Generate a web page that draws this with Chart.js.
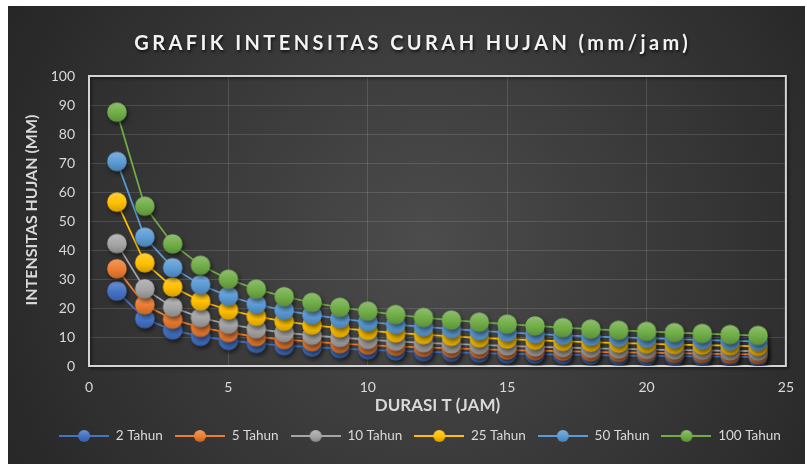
<!DOCTYPE html>
<html>
<head>
<meta charset="utf-8">
<script src="https://cdn.jsdelivr.net/npm/chart.js@4.4.1/dist/chart.umd.min.js"></script>
<style>
  html, body { margin: 0; padding: 0; background: #fff; }
  #wrap { width: 807px; height: 464px; }
</style>
</head>
<body>
<div id="wrap"><canvas id="chart" width="807" height="464"></canvas></div>
<script>
/* =========================
   Data
   ========================= */

const durasi = [1, 2, 3, 4, 5, 6, 7, 8, 9, 10, 11, 12, 13, 14, 15, 16, 17, 18, 19, 20, 21, 22, 23, 24];

const tahun2   = [25.8, 16.3, 12.4, 10.2, 8.8, 7.8, 7.0, 6.5, 6.0, 5.6, 5.2, 4.9, 4.7, 4.4, 4.2, 4.1, 3.9, 3.8, 3.6, 3.5, 3.4, 3.3, 3.2, 3.1];
const tahun5   = [33.5, 21.1, 16.1, 13.3, 11.5, 10.1, 9.1, 8.4, 7.7, 7.2, 6.8, 6.4, 6.1, 5.8, 5.5, 5.3, 5.1, 4.9, 4.7, 4.6, 4.4, 4.3, 4.1, 4.0];
const tahun10  = [42.2, 26.6, 20.3, 16.7, 14.4, 12.8, 11.5, 10.6, 9.8, 9.1, 8.5, 8.0, 7.6, 7.3, 6.9, 6.6, 6.4, 6.1, 5.9, 5.7, 5.5, 5.4, 5.2, 5.1];
const tahun25  = [56.5, 35.6, 27.2, 22.4, 19.3, 17.1, 15.4, 14.1, 13.1, 12.2, 11.4, 10.8, 10.2, 9.7, 9.3, 8.9, 8.5, 8.2, 7.9, 7.7, 7.4, 7.2, 7.0, 6.8];
const tahun50  = [70.5, 44.4, 33.9, 28.0, 24.1, 21.3, 19.2, 17.6, 16.3, 15.2, 14.3, 13.5, 12.8, 12.1, 11.6, 11.1, 10.6, 10.2, 9.9, 9.6, 9.3, 9.0, 8.7, 8.5];
const tahun100 = [87.5, 55.1, 42.1, 34.7, 29.9, 26.5, 23.9, 21.9, 20.2, 18.9, 17.7, 16.7, 15.8, 15.1, 14.4, 13.8, 13.2, 12.7, 12.3, 11.9, 11.5, 11.2, 10.8, 10.5];

const seriesNames = ['2 Tahun', '5 Tahun', '10 Tahun', '25 Tahun', '50 Tahun', '100 Tahun'];
const seriesValues = [tahun2, tahun5, tahun10, tahun25, tahun50, tahun100];
const seriesColors = ['#4472C4', '#ED7D31', '#A5A5A5', '#FFC000', '#5B9BD5', '#70AD47'];

const titleText = 'GRAFIK INTENSITAS CURAH HUJAN (mm/jam)';
const xTitle = 'DURASI T (JAM)';
const yTitle = 'INTENSITAS HUJAN (MM)';

const FONT = 'Lato, "Open Sans", sans-serif';
const TEXT = '#d9d9d9';

/* =========================
   Marker images
   ========================= */

function shade(hex, amt) {
    let r = parseInt(hex.slice(1, 3), 16), g = parseInt(hex.slice(3, 5), 16), b = parseInt(hex.slice(5, 7), 16);
    const f = c => amt > 0 ? Math.round(c + (255 - c) * amt) : Math.round(c * (1 + amt));
    return 'rgb(' + f(r) + ',' + f(g) + ',' + f(b) + ')';
}

function makeMarker(color, r, pad) {
    const size = Math.ceil((r + pad) * 2);
    const c = document.createElement('canvas');
    c.width = size; c.height = size;
    const ctx = c.getContext('2d');
    const cx = size / 2, cy = size / 2;
    ctx.shadowColor = 'rgba(0,0,0,0.55)';
    ctx.shadowBlur = 4;
    ctx.shadowOffsetX = 1.5;
    ctx.shadowOffsetY = 2.5;
    const grad = ctx.createLinearGradient(0, cy - r, 0, cy + r);
    grad.addColorStop(0, shade(color, 0.22));
    grad.addColorStop(0.55, color);
    grad.addColorStop(1, shade(color, -0.18));
    ctx.fillStyle = grad;
    ctx.beginPath();
    ctx.arc(cx, cy, r, 0, Math.PI * 2);
    ctx.fill();
    return c;
}

function makeLegendMarker(color) {
    const c = document.createElement('canvas');
    c.width = 50; c.height = 16;
    const ctx = c.getContext('2d');
    ctx.strokeStyle = color;
    ctx.lineWidth = 2;
    ctx.beginPath();
    ctx.moveTo(0, 8);
    ctx.lineTo(50, 8);
    ctx.stroke();
    const grad = ctx.createLinearGradient(0, 2, 0, 14);
    grad.addColorStop(0, shade(color, 0.22));
    grad.addColorStop(0.55, color);
    grad.addColorStop(1, shade(color, -0.18));
    ctx.fillStyle = grad;
    ctx.beginPath();
    ctx.arc(25, 8, 6, 0, Math.PI * 2);
    ctx.fill();
    return c;
}

const markers = seriesColors.map(c => makeMarker(c, 9.8, 5));
const legendMarkers = seriesColors.map(c => makeLegendMarker(c));

/* =========================
   Plugins
   ========================= */

const backgroundPlugin = {
    id: 'bgPanel',
    beforeDraw(chart) {
        const ctx = chart.ctx;
        ctx.save();
        ctx.fillStyle = '#ffffff';
        ctx.fillRect(0, 0, chart.width, chart.height);
        const g = ctx.createRadialGradient(425, 245, 0, 425, 245, 520);
        g.addColorStop(0, '#4c4c4c');
        g.addColorStop(1, '#232323');
        ctx.fillStyle = g;
        ctx.fillRect(8, 6, 797, 458);
        ctx.restore();
    }
};

const plotBorderPlugin = {
    id: 'plotBorder',
    beforeDatasetsDraw(chart) {
        const { ctx, chartArea: a } = chart;
        ctx.save();
        ctx.shadowColor = 'rgba(0,0,0,0.6)';
        ctx.shadowBlur = 3;
        ctx.shadowOffsetX = 1.5;
        ctx.shadowOffsetY = 1.5;
        ctx.strokeStyle = '#d4d4d4';
        ctx.lineWidth = 2;
        ctx.strokeRect(a.left, a.top, a.right - a.left, a.bottom - a.top);
        ctx.restore();
    }
};

// chart title (letter spaced) and the y axis title
const textPlugin = {
    id: 'extraText',
    afterDraw(chart) {
        const ctx = chart.ctx;
        ctx.save();
        ctx.font = 'bold 20px ' + FONT;
        const natural = ctx.measureText(titleText).width;
        const spacing = Math.max(0, (557 - natural) / titleText.length);
        ctx.letterSpacing = spacing.toFixed(2) + 'px';
        ctx.textAlign = 'center';
        ctx.textBaseline = 'middle';
        ctx.shadowColor = 'rgba(0,0,0,0.7)';
        ctx.shadowBlur = 3;
        ctx.shadowOffsetX = 1;
        ctx.shadowOffsetY = 1.5;
        ctx.fillStyle = '#f2f2f2';
        ctx.fillText(titleText, 411 + spacing / 2, 44);
        ctx.restore();

        ctx.save();
        ctx.translate(32, 210);
        ctx.rotate(-Math.PI / 2);
        ctx.font = 'bold 16px ' + FONT;
        ctx.textAlign = 'center';
        ctx.textBaseline = 'middle';
        ctx.fillStyle = TEXT;
        ctx.fillText(yTitle, 0, 0);
        ctx.restore();
    }
};

const legendShiftPlugin = {
    id: 'legendShift',
    afterLayout(chart) {
        if (chart.legend) {
            chart.legend.left += 25;
            chart.legend.right += 25;
        }
    }
};

/* =========================
   Chart
   ========================= */

const datasets = seriesNames.map((name, i) => ({
    label: name,
    data: durasi.map((t, j) => ({ x: t, y: seriesValues[i][j] })),
    borderColor: seriesColors[i],
    backgroundColor: seriesColors[i],
    borderWidth: 1.75,
    pointStyle: markers[i],
    pointRadius: 10,
    tension: 0,
    order: seriesNames.length - i
}));

new Chart(document.getElementById('chart'), {
    type: 'line',
    data: { datasets: datasets },
    options: {
        responsive: false,
        animation: false,
        layout: { padding: { top: 76, left: 0, right: 17, bottom: 11.25 } },
        scales: {
            x: {
                type: 'linear',
                min: 0,
                max: 25,
                ticks: { stepSize: 5, color: TEXT, font: { family: FONT, size: 14 }, padding: 13 },
                grid: { color: 'rgba(255,255,255,0.13)', drawTicks: false },
                border: { display: false },
                title: { display: true, text: xTitle, color: TEXT, font: { family: FONT, size: 17, weight: 'bold' }, padding: { top: 0, bottom: 1.2 } },
                afterFit(scale) { scale.height = 51.25; }
            },
            y: {
                min: 0,
                max: 100,
                ticks: { stepSize: 10, color: TEXT, font: { family: FONT, size: 14 }, padding: 14 },
                grid: { color: 'rgba(255,255,255,0.13)', drawTicks: false },
                border: { display: false },
                title: { display: false },
                afterFit(scale) { scale.width = 89; }
            }
        },
        plugins: {
            title: { display: false },
            tooltip: { enabled: false },
            legend: {
                position: 'bottom',
                labels: {
                    color: TEXT,
                    font: { family: FONT, size: 13.5 },
                    usePointStyle: true,
                    pointStyleWidth: 50,
                    boxHeight: 12,
                    padding: 12,
                    sort: (a, b) => a.datasetIndex - b.datasetIndex,
                    generateLabels(chart) {
                        const items = Chart.defaults.plugins.legend.labels.generateLabels(chart);
                        items.forEach(it => { it.pointStyle = legendMarkers[it.datasetIndex]; });
                        return items;
                    }
                }
            }
        }
    },
    plugins: [backgroundPlugin, plotBorderPlugin, textPlugin, legendShiftPlugin]
});
</script>
</body>
</html>
